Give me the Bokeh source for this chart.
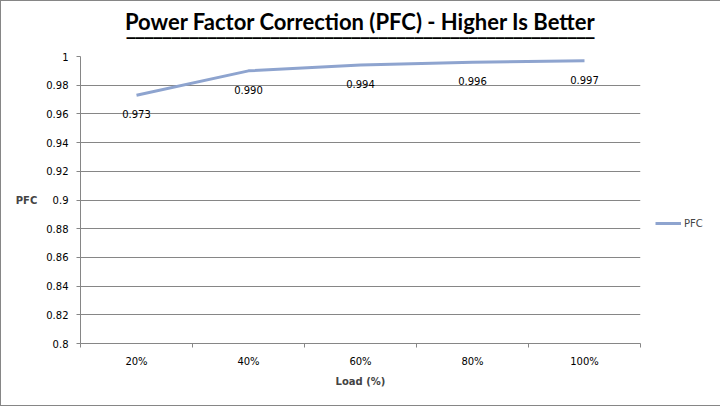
from bokeh.plotting import figure
from bokeh.models import (FixedTicker, CustomJSTickFormatter, Range1d, Title,
                          Legend, LegendItem, ColumnDataSource)
from bokeh.core.properties import value
from bokeh.embed import file_html
from bokeh.resources import INLINE

categories = ["20%", "40%", "60%", "80%", "100%"]
pfc = [0.973, 0.990, 0.994, 0.996, 0.997]
pfc_labels = ["0.973", "0.990", "0.994", "0.996", "0.997"]
y_ticks = [0.8, 0.82, 0.84, 0.86, 0.88, 0.9, 0.92, 0.94, 0.96, 0.98, 1.0]
title_text = "Power Factor Correction (PFC) - Higher Is Better"

xpos = [i + 0.5 for i in range(len(categories))]
src = ColumnDataSource(dict(x=xpos, y=pfc, lab=pfc_labels))

GRAY = "#868686"
FONT = "DejaVu Sans"

p = figure(frame_width=560, frame_height=287, output_backend="svg", toolbar_location=None,
           x_range=Range1d(0, len(categories)), y_range=Range1d(0.8, 1.0),
           min_border_left=79, min_border_right=79, min_border_top=55, min_border_bottom=62)
p.outline_line_color = None
p.background_fill_color = "white"
p.border_fill_color = "white"
p.styles = {"border": "1px solid #868686"}

# title + underline (a row of overline characters in a second title panel)
p.title.text = title_text
p.title.align = "center"
p.title.text_font = "Lato"
p.title.text_font_size = "22px"
p.title.text_font_style = "bold"
p.title.text_color = "black"
p.title.standoff = -9
p.title.offset = 0
underline = Title(text="\u203e" * 52, align="center", text_font="DejaVu Sans",
                  text_font_size="18px", text_font_style="bold", text_color="black",
                  standoff=3)
p.add_layout(underline, "above")

# y axis
p.yaxis.ticker = FixedTicker(ticks=y_ticks, minor_ticks=[])
p.yaxis.formatter = CustomJSTickFormatter(code="return String(parseFloat(tick.toFixed(2)))")
p.yaxis.axis_line_color = GRAY
p.yaxis.major_tick_line_color = GRAY
p.yaxis.major_tick_out = 4
p.yaxis.major_tick_in = 0
p.yaxis.minor_tick_line_color = None
p.yaxis.major_label_standoff = 8
p.yaxis.major_label_text_font = FONT
p.yaxis.major_label_text_font_size = "10px"
p.yaxis.major_label_text_color = "black"
p.yaxis.axis_label = "PFC"
p.yaxis.axis_label_text_font = FONT
p.yaxis.axis_label_text_font_size = "10px"
p.yaxis.axis_label_text_font_style = "bold"
p.yaxis.axis_label_standoff = 6
if hasattr(p.yaxis[0], "axis_label_orientation"):
    p.yaxis.axis_label_orientation = "horizontal"

# x axis
p.xaxis.ticker = FixedTicker(ticks=xpos, minor_ticks=list(range(len(categories) + 1)))
p.xaxis.major_label_overrides = {x: c for x, c in zip(xpos, categories)}
p.xaxis.axis_line_color = GRAY
p.xaxis.major_tick_line_color = None
p.xaxis.major_tick_out = 0
p.xaxis.major_tick_in = 0
p.xaxis.minor_tick_line_color = GRAY
p.xaxis.minor_tick_out = 4
p.xaxis.minor_tick_in = 0
p.xaxis.major_label_standoff = 8
p.xaxis.major_label_text_font = FONT
p.xaxis.major_label_text_font_size = "10px"
p.xaxis.major_label_text_color = "black"
p.xaxis.axis_label = "Load (%)"
p.xaxis.axis_label_text_font = FONT
p.xaxis.axis_label_text_font_size = "10px"
p.xaxis.axis_label_text_font_style = "bold"
p.xaxis.axis_label_standoff = 6

p.xgrid.grid_line_color = None
p.ygrid.grid_line_color = GRAY
p.ygrid.grid_line_width = 1

r = p.line("x", "y", source=src, line_color="#8EA4CF", line_width=3)
p.text("x", "y", text="lab", source=src, text_align="center", text_baseline="middle",
       y_offset=19, text_font_size="10px", text_font=value(FONT), text_color="black")

# legend in the right panel
legend = Legend(items=[LegendItem(label="PFC", renderers=[r])], location="top_left",
                title=" ", title_text_font_size="1px", title_standoff=141,
                glyph_width=26, glyph_height=20, label_height=20, label_standoff=3,
                padding=0, margin=15, border_line_color=None, background_fill_alpha=0,
                label_text_font=FONT, label_text_font_size="10px")
p.add_layout(legend, "right")

open("out.html", "w").write(file_html(p, INLINE))
